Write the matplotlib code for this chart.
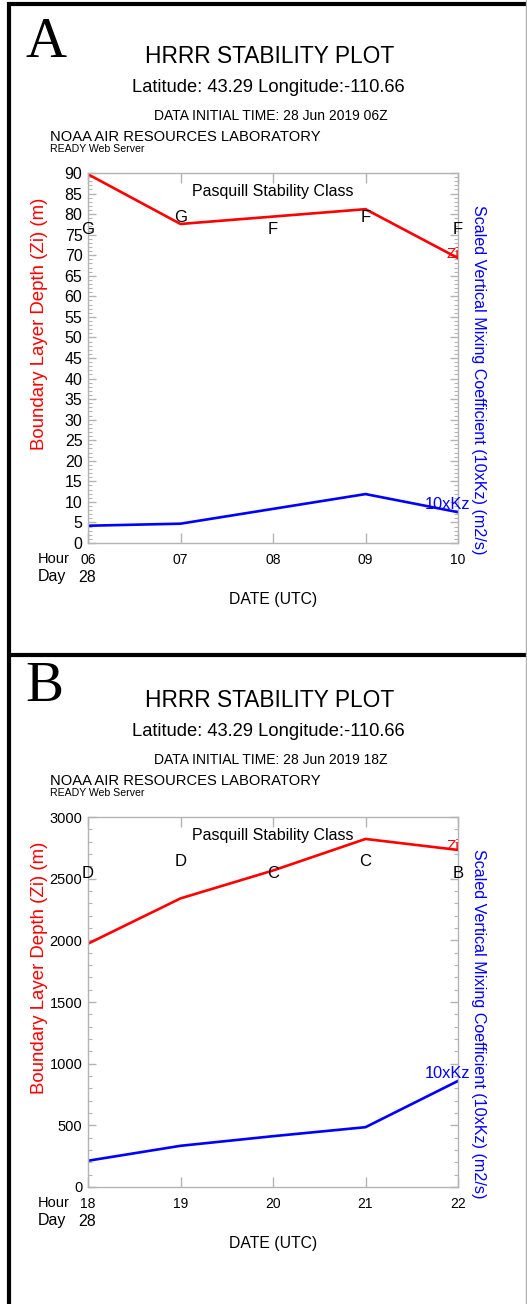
import matplotlib
matplotlib.use("Agg")
import matplotlib.pyplot as plt
from matplotlib.ticker import MultipleLocator, FixedLocator
from matplotlib.lines import Line2D

# ---- data -------------------------------------------------------------
hours_a = ["06", "07", "08", "09", "10"]
zi_a = [89.7, 77.6, 79.4, 81.2, 69.3]          # boundary layer depth (m)
kz_a = [4.2, 4.7, 8.3, 11.9, 7.5]              # 10 x Kz (m2/s)
stab_a = ["G", "G", "F", "F", "F"]
init_a = "06Z"

hours_b = ["18", "19", "20", "21", "22"]
zi_b = [1973, 2340, 2566, 2822, 2733]
kz_b = [213, 334, 412, 485, 860]
stab_b = ["D", "D", "C", "C", "B"]
init_b = "18Z"

day = "28"
lat, lon = "43.29", "-110.66"

W, H = 527, 1304
SANS = "Liberation Sans"
SERIF = "Liberation Serif"
plt.rcParams["font.family"] = SANS

fig = plt.figure(figsize=(W / 100, H / 100), dpi=100)
fig.patch.set_facecolor("white")


def fx(px):
    return px / W


def fy(py):
    return 1 - py / H


def ftext(x, y, s, **kw):
    fig.text(fx(x), fy(y), s, **kw)


# outer frame lines
frame = dict(transform=fig.transFigure, color="black", solid_capstyle="butt")
fig.add_artist(Line2D([fx(7), fx(527)], [fy(4), fy(4)], lw=3.0, **frame))
fig.add_artist(Line2D([fx(9), fx(9)], [fy(2), fy(1304)], lw=3.0, **frame))
fig.add_artist(Line2D([fx(7), fx(527)], [fy(655), fy(655)], lw=3.0, **frame))
fig.add_artist(Line2D([fx(526), fx(526)], [fy(0), fy(1304)], lw=1.0,
                      transform=fig.transFigure, color="#b0b0b0"))

GRAY = "#b4b4b4"


def panel(dy, letter, hours, zi, kz, stab, init, ymax, major, minor, ylab_size):
    # header text
    ftext(25, 57 + dy, letter, family=SERIF, fontsize=41, ha="left", va="baseline")
    ftext(270, 63 + dy, "HRRR STABILITY PLOT", fontsize=16.4, ha="center", va="baseline")
    ftext(268, 91.5 + dy, f"Latitude: {lat} Longitude:{lon}", fontsize=13.2,
          ha="center", va="baseline")
    ftext(271, 120 + dy, f"DATA INITIAL TIME: {day} Jun 2019 {init}", fontsize=10,
          ha="center", va="baseline")
    ftext(50, 141 + dy, "NOAA AIR RESOURCES LABORATORY", fontsize=10.6,
          ha="left", va="baseline")
    ftext(50, 152.5 + dy, "READY Web Server", fontsize=7.6, ha="left", va="baseline")

    top, bot, left, right = 173 + dy, 543 + dy, 88, 458
    ax = fig.add_axes([fx(left), fy(bot), fx(right) - fx(left), (bot - top) / H])
    x = list(range(len(hours)))
    ax.plot(x, zi, color="#ff0000", lw=1.9, solid_joinstyle="miter")
    ax.plot(x, kz, color="#0000ff", lw=1.9, solid_joinstyle="miter")
    ax.set_xlim(0, len(hours) - 1)
    ax.set_ylim(0, ymax)

    for s in ax.spines.values():
        s.set_color(GRAY)
        s.set_linewidth(1.0)
    ax.xaxis.set_major_locator(FixedLocator(x))
    ax.set_xticklabels(hours)
    ax.yaxis.set_major_locator(MultipleLocator(major))
    ax.yaxis.set_minor_locator(MultipleLocator(minor))
    ax.tick_params(axis="x", which="major", direction="in", length=7, width=1,
                   color=GRAY, top=True, bottom=True, labelsize=10, pad=7)
    ax.tick_params(axis="y", which="major", direction="in", length=6, width=1,
                   color=GRAY, left=True, right=True, labelsize=ylab_size, pad=4)
    ax.tick_params(axis="y", which="minor", direction="in", length=3, width=0.8,
                   color=GRAY, left=True, right=True)
    ax.tick_params(axis="x", which="minor", length=0)

    # stability class letters, alternating heights
    ax.text(0.5, 0.949, "Pasquill Stability Class", transform=ax.transAxes,
            fontsize=11.5, ha="center", va="center")
    for i, s in enumerate(stab):
        yy = 0.848 if i % 2 == 0 else 0.880
        ax.text(i, yy, s, transform=ax.get_xaxis_transform(), fontsize=12,
                ha="center", va="center")

    # series tags at the end of each curve
    ax.annotate("Zi", (x[-1], zi[-1]), xytext=(-5, 0), textcoords="offset pixels",
                color="#ff0000", fontsize=11, ha="center", va="baseline",
                annotation_clip=False)
    ax.annotate("10xKz", (x[-1], kz[-1]), xytext=(12, 3), textcoords="offset pixels",
                color="#0000ff", fontsize=11.8, ha="right", va="baseline",
                annotation_clip=False)

    # axis titles
    ftext(40, 324 + dy, "Boundary Layer Depth (Zi) (m)", color="#ff0000", fontsize=13.4,
          rotation=90, ha="center", va="center")
    ftext(478, 380 + dy, "Scaled Vertical Mixing Coefficient (10xKz) (m2/s)",
          color="#0000ff", fontsize=11.6, rotation=270, ha="center", va="center")
    ftext(38, 563 + dy, "Hour", fontsize=10.5, ha="left", va="baseline")
    ftext(38, 581.5 + dy, "Day", fontsize=11.5, ha="left", va="baseline")
    ftext(87, 581.5 + dy, day, fontsize=11.5, ha="center", va="baseline")
    ftext(273, 604 + dy, "DATE (UTC)", fontsize=11.3, ha="center", va="baseline")
    return ax


panel(0, "A", hours_a, zi_a, kz_a, stab_a, init_a, 90, 5, 1, 11.5)
panel(644, "B", hours_b, zi_b, kz_b, stab_b, init_b, 3000, 500, 100, 10.5)

fig.savefig("out.png", dpi=100, facecolor="white")
